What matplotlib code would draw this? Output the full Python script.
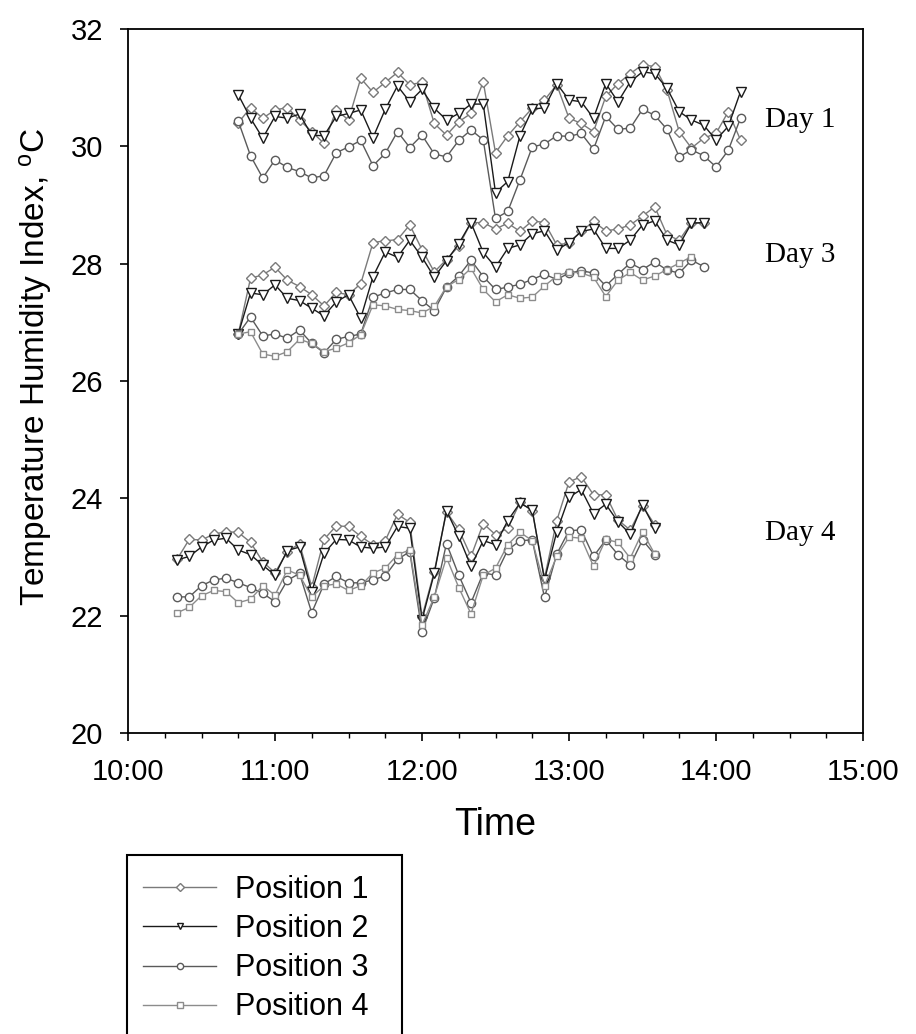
import numpy as np
import matplotlib.pyplot as plt
from matplotlib.lines import Line2D
from matplotlib.patches import Rectangle
from matplotlib.ticker import MultipleLocator, FixedLocator

plt.rcParams['font.family'] = ['Liberation Sans', 'DejaVu Sans']
plt.rcParams['mathtext.fontset'] = 'custom'
plt.rcParams['mathtext.rm'] = 'Liberation Sans'

# readings every 5 minutes, start time in decimal hours
step = 5 / 60.0
day1_start = 10.75
day3_start = 10.75
day4_start = 10 + 20 / 60.0

# Day 1 (no position 4)
day1_pos1 = [30.40, 30.66, 30.48, 30.62, 30.66, 30.45, 30.25, 30.05, 30.62, 30.45,
             31.16, 30.92, 31.09, 31.26, 31.05, 31.09, 30.39, 30.19, 30.42, 30.56,
             31.10, 29.89, 30.18, 30.42, 30.65, 30.79, 31.05, 30.48, 30.39, 30.25,
             30.85, 31.07, 31.24, 31.39, 31.36, 30.96, 30.25, 29.97, 30.14, 30.22,
             30.59, 30.11]
day1_pos2 = [30.88, 30.48, 30.14, 30.51, 30.48, 30.55, 30.19, 30.18, 30.51, 30.56,
             30.62, 30.15, 30.63, 31.03, 30.76, 30.97, 30.65, 30.45, 30.56, 30.72,
             30.72, 29.21, 29.40, 30.18, 30.63, 30.66, 31.07, 30.79, 30.76, 30.48,
             31.07, 30.76, 31.10, 31.27, 31.24, 30.99, 30.59, 30.45, 30.36, 30.11,
             30.34, 30.93]
day1_pos3 = [30.43, 29.84, 29.46, 29.77, 29.64, 29.57, 29.46, 29.50, 29.89, 29.99,
             30.10, 29.67, 29.88, 30.25, 29.98, 30.19, 29.87, 29.82, 30.10, 30.28,
             30.11, 28.77, 28.89, 29.43, 29.99, 30.04, 30.18, 30.17, 30.22, 29.95,
             30.51, 30.29, 30.31, 30.63, 30.53, 30.29, 29.82, 29.94, 29.84, 29.65,
             29.93, 30.48]

# Day 3
day3_pos1 = [26.80, 27.75, 27.81, 27.94, 27.72, 27.61, 27.47, 27.28, 27.51, 27.47,
             27.66, 28.36, 28.39, 28.41, 28.66, 28.24, 27.86, 28.07, 28.30, 28.70,
             28.70, 28.59, 28.69, 28.55, 28.73, 28.70, 28.32, 28.35, 28.55, 28.72,
             28.56, 28.59, 28.66, 28.81, 28.97, 28.49, 28.40, 28.70, 28.69]
day3_pos2 = [26.80, 27.50, 27.47, 27.64, 27.41, 27.37, 27.24, 27.11, 27.35, 27.47,
             27.07, 27.78, 28.20, 28.11, 28.40, 28.11, 27.77, 28.05, 28.34, 28.70,
             28.19, 27.94, 28.26, 28.32, 28.51, 28.56, 28.23, 28.36, 28.55, 28.59,
             28.26, 28.26, 28.40, 28.66, 28.73, 28.40, 28.32, 28.69, 28.70]
day3_pos3 = [26.80, 27.09, 26.77, 26.80, 26.73, 26.87, 26.64, 26.48, 26.71, 26.76,
             26.80, 27.43, 27.50, 27.56, 27.56, 27.37, 27.20, 27.60, 27.79, 28.06,
             27.78, 27.56, 27.60, 27.65, 27.73, 27.82, 27.73, 27.84, 27.88, 27.84,
             27.62, 27.82, 28.01, 27.90, 28.03, 27.89, 27.84, 28.06, 27.95]
day3_pos4 = [26.80, 26.84, 26.46, 26.42, 26.50, 26.71, 26.64, 26.50, 26.56, 26.65,
             26.79, 27.30, 27.28, 27.22, 27.20, 27.16, 27.27, 27.61, 27.73, 27.92,
             27.56, 27.35, 27.47, 27.41, 27.43, 27.62, 27.79, 27.86, 27.84, 27.77,
             27.44, 27.72, 27.85, 27.72, 27.79, 27.90, 28.01, 28.12]

# Day 4
day4_pos1 = [22.96, 23.30, 23.29, 23.39, 23.43, 23.42, 23.25, 22.92, 22.73, 23.09,
             23.23, 22.49, 23.30, 23.53, 23.52, 23.35, 23.21, 23.28, 23.73, 23.59,
             21.98, 22.75, 23.77, 23.47, 23.01, 23.57, 23.38, 23.49, 23.93, 23.79,
             22.64, 23.62, 24.28, 24.37, 24.06, 24.06, 23.63, 23.46, 23.87, 23.55]
day4_pos2 = [22.95, 23.01, 23.17, 23.29, 23.32, 23.12, 23.04, 22.86, 22.69, 23.11,
             23.17, 22.41, 23.06, 23.30, 23.29, 23.17, 23.15, 23.17, 23.52, 23.49,
             21.93, 22.72, 23.79, 23.35, 22.84, 23.28, 23.21, 23.62, 23.92, 23.80,
             22.61, 23.43, 24.02, 24.15, 23.74, 23.90, 23.60, 23.39, 23.89, 23.49]
day4_pos3 = [22.32, 22.32, 22.51, 22.61, 22.64, 22.56, 22.48, 22.38, 22.24, 22.60,
             22.72, 22.05, 22.54, 22.67, 22.56, 22.56, 22.61, 22.68, 22.96, 23.09,
             21.73, 22.30, 23.23, 22.69, 22.22, 22.73, 22.69, 23.12, 23.28, 23.29,
             22.31, 23.05, 23.45, 23.46, 23.01, 23.29, 23.04, 22.86, 23.29, 23.04]
day4_pos4 = [22.05, 22.14, 22.34, 22.43, 22.41, 22.22, 22.28, 22.51, 22.35, 22.78,
             22.69, 22.32, 22.51, 22.54, 22.43, 22.51, 22.73, 22.81, 23.04, 23.12,
             21.84, 22.32, 22.99, 22.48, 22.03, 22.69, 22.81, 23.21, 23.42, 23.28,
             22.51, 23.01, 23.34, 23.32, 22.84, 23.30, 23.25, 22.98, 23.43, 23.05]

position_labels = ['Position 1', 'Position 2', 'Position 3', 'Position 4']
day_labels = ['Day 1', 'Day 3', 'Day 4']
hour_ticks = [10, 11, 12, 13, 14, 15]
hour_labels = ['10:00', '11:00', '12:00', '13:00', '14:00', '15:00']

# line / marker style per position
styles = [
    dict(color='#7a7a7a', marker='D', ms=5.0),
    dict(color='#1a1a1a', marker='v', ms=6.5),
    dict(color='#5a5a5a', marker='o', ms=6.0),
    dict(color='#8c8c8c', marker='s', ms=5.0),
]

fig = plt.figure(figsize=(9.16, 10.34), dpi=100)
W, H = 916.0, 1034.0
ax = fig.add_axes([128 / W, 1 - 733 / H, (863 - 128) / W, (733 - 29) / H])


def draw(start, values, st):
    t = start + step * np.arange(len(values))
    ax.plot(t, values, color=st['color'], lw=1.0, marker=st['marker'], ms=st['ms'],
            mfc='white', mec=st['color'], mew=1.0)


for vals, st in zip([day1_pos1, day1_pos2, day1_pos3], styles):
    draw(day1_start, vals, st)
for vals, st in zip([day3_pos1, day3_pos2, day3_pos3, day3_pos4], styles):
    draw(day3_start, vals, st)
for vals, st in zip([day4_pos1, day4_pos2, day4_pos3, day4_pos4], styles):
    draw(day4_start, vals, st)

# day annotations
for lab, yv in zip(day_labels, [30.45, 28.15, 23.41]):
    ax.text(14.33, yv, lab, family='Liberation Serif', fontsize=21, va='center', ha='left')

ax.set_xlim(10, 15)
ax.set_ylim(20, 32)
ax.xaxis.set_major_locator(FixedLocator(hour_ticks))
ax.set_xticklabels(hour_labels)
ax.xaxis.set_minor_locator(MultipleLocator(0.25))
ax.yaxis.set_major_locator(MultipleLocator(2))
ax.tick_params(axis='both', which='major', direction='out', length=6, width=1.2,
               labelsize=21, pad=12)
ax.tick_params(axis='x', which='minor', direction='out', length=3.5, width=1.0)
for s in ax.spines.values():
    s.set_linewidth(1.3)

ax.set_xlabel('Time', fontsize=27, labelpad=15)
ax.set_ylabel(r'Temperature Humidity Index, $\mathregular{^{o}}$C', fontsize=24)
ax.yaxis.set_label_coords((54 - 128) / 735.0, 0.52)

# legend below the plot, its box runs off the bottom of the figure
handles = [Line2D([], [], color=st['color'], lw=1.0, marker=st['marker'],
                  ms=st['ms'] * 0.75, mfc='white', mec=st['color'], mew=1.0)
           for st in styles]
fig.legend(handles, position_labels, loc='upper left',
           bbox_to_anchor=(127 / W, 1 - 859 / H), frameon=False, fontsize=22,
           handlelength=2.4, handletextpad=0.6, borderpad=0.52, labelspacing=0.3,
           borderaxespad=0)
fig.patches.append(Rectangle((127 / W, -0.05), (402 - 127) / W, (1034 - 855) / H + 0.05,
                             transform=fig.transFigure, fill=False, lw=1.5,
                             edgecolor='black'))

fig.savefig('out.png', dpi=100)
